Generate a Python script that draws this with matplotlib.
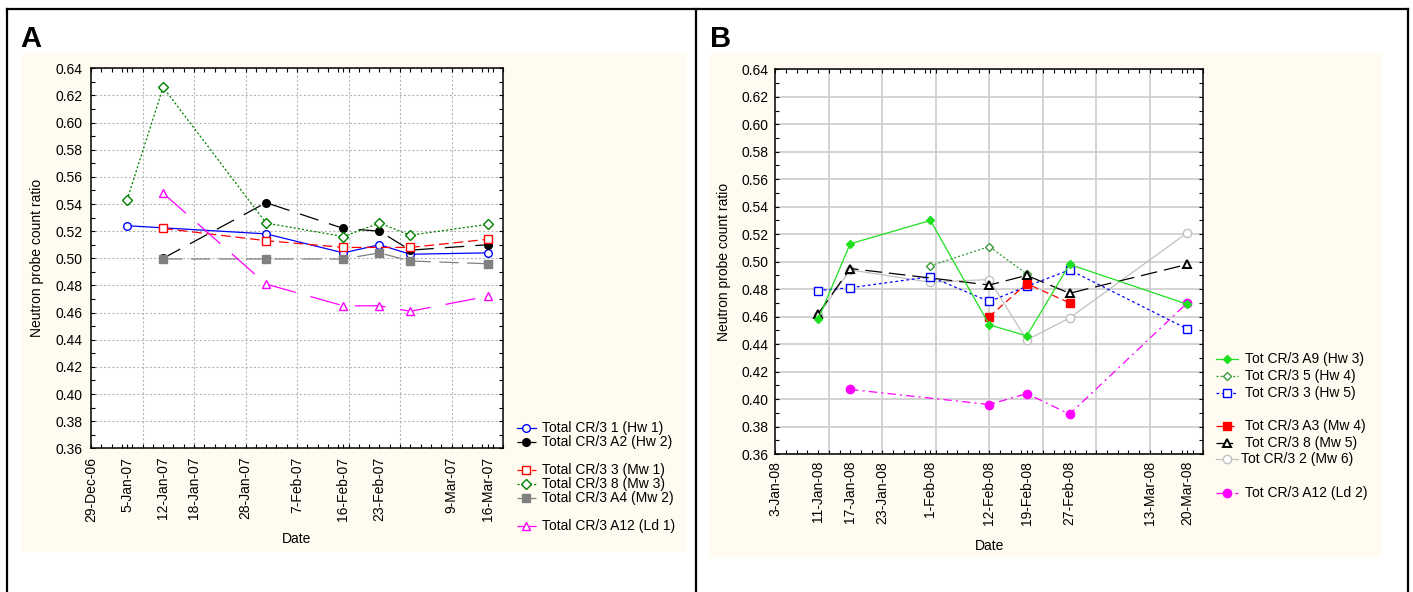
import numpy as np
import pandas as pd
import matplotlib
matplotlib.use('Agg')
import matplotlib.pyplot as plt
from matplotlib.lines import Line2D
from matplotlib.patches import Rectangle
from matplotlib.ticker import MultipleLocator, FixedLocator
import matplotlib.dates as mdates

plt.rcParams['font.family'] = ['Liberation Sans', 'DejaVu Sans']
plt.rcParams['lines.scale_dashes'] = False

nan = np.nan

# ── DATA: panel A (2007) ──────────────────────────────────────────────────────
dates_a = pd.to_datetime(['2007-01-05', '2007-01-12', '2007-02-01', '2007-02-16',
                          '2007-02-23', '2007-03-01', '2007-03-16'])
a_cr3_1   = [0.524, nan,    0.518,  0.504,  0.510, 0.503, 0.504]
a_cr3_a2  = [nan,   0.500,  0.541,  0.522,  0.520, 0.506, 0.510]
a_cr3_3   = [nan,   0.522,  0.513,  0.508,  nan,   0.508, 0.514]
a_cr3_8   = [0.543, 0.626,  0.526,  0.516,  0.526, 0.517, 0.525]
a_cr3_a4  = [nan,   0.4995, 0.4995, 0.4995, 0.504, 0.498, 0.496]
a_cr3_a12 = [nan,   0.548,  0.481,  0.465,  0.465, 0.461, 0.472]
ticks_a = ['2006-12-29', '2007-01-05', '2007-01-12', '2007-01-18', '2007-01-28',
           '2007-02-07', '2007-02-16', '2007-02-23', '2007-03-09', '2007-03-16']
xlim_a = ('2006-12-29', '2007-03-19')

# ── DATA: panel B (2008) ──────────────────────────────────────────────────────
dates_b = pd.to_datetime(['2008-01-11', '2008-01-17', '2008-02-01', '2008-02-12',
                          '2008-02-19', '2008-02-27', '2008-03-20'])
b_cr3_a9  = [0.458, 0.513, 0.530, 0.454, 0.446, 0.498, 0.469]
b_cr3_5   = [nan,   nan,   0.497, 0.511, 0.491, nan,   nan]
b_cr3_3   = [0.479, 0.481, 0.489, 0.471, 0.482, 0.494, 0.451]
b_cr3_a3  = [nan,   nan,   nan,   0.460, 0.484, 0.470, nan]
b_cr3_8   = [0.462, 0.495, nan,   0.483, 0.490, 0.477, 0.498]
b_cr3_2   = [0.461, 0.494, 0.485, 0.487, 0.443, 0.459, 0.521]
b_cr3_a12 = [nan,   0.407, nan,   0.396, 0.404, 0.389, 0.470]
ticks_b = ['2008-01-03', '2008-01-11', '2008-01-17', '2008-01-23', '2008-02-01',
           '2008-02-12', '2008-02-19', '2008-02-27', '2008-03-13', '2008-03-20']
xlim_b = ('2008-01-03', '2008-03-23')

# ── STYLES ────────────────────────────────────────────────────────────────────
S_A = {
    'Total CR/3 1 (Hw 1)':   dict(color='#0000ff', ls='-', marker='o', mfc='white', ms=5.5),
    'Total CR/3 A2 (Hw 2)':  dict(color='black', ls=(0, (14, 8)), marker='o', ms=5.5),
    'Total CR/3 3 (Mw 1)':   dict(color='#ff0000', ls=(0, (7, 3.5)), marker='s', mfc='white', ms=6),
    'Total CR/3 8 (Mw 3)':   dict(color='#008000', ls=(0, (1.5, 1.5)), marker='D', mfc='white', ms=5),
    'Total CR/3 A4 (Mw 2)':  dict(color='#808080', ls=(0, (14, 6)), marker='s', ms=6),
    'Total CR/3 A12 (Ld 1)': dict(color='#ff00ff', ls=(0, (22, 11)), marker='^', mfc='white', ms=6),
}
S_B = {
    'Tot CR/3 A9 (Hw 3)':  dict(color='#1fe01f', ls='-', marker='D', ms=4.5),
    'Tot CR/3 5 (Hw 4)':   dict(color='#3a9a3a', ls=(0, (1.5, 1.5)), marker='D', mfc='white', ms=4.5),
    'Tot CR/3 3 (Hw 5)':   dict(color='#0000ff', ls=(0, (2, 2)), marker='s', mfc='white', ms=6),
    'Tot CR/3 A3 (Mw 4)':  dict(color='#ff0000', ls=(0, (5, 3)), marker='s', ms=6),
    'Tot CR/3 8 (Mw 5)':   dict(color='black', ls=(0, (12, 5)), marker='^', mfc='white', ms=5.5, mew=1.4),
    'Tot CR/3 2 (Mw 6)':   dict(color='#c0c0c0', ls='-', marker='o', mfc='white', ms=6),
    'Tot CR/3 A12 (Ld 2)': dict(color='#ff00ff', ls=(0, (6, 3, 1.5, 3)), marker='o', ms=6),
}

W, H = 1413, 592
CREAM = '#FFFBF0'


def px(x, y):
    return x / W, 1 - y / H


def plot_series(ax, dates, vals, style):
    v = np.array(vals, dtype=float)
    m = ~np.isnan(v)
    ax.plot(dates[m], v[m], lw=0.9, mew=style.get('mew', 1.0),
            **{k: s for k, s in style.items() if k != 'mew'})


def setup_axes(ax, xlim, ticks, grid_kw, pad):
    x0, x1 = pd.Timestamp(xlim[0]), pd.Timestamp(xlim[1])
    ax.set_xlim(x0, x1)
    ax.set_ylim(0.36, 0.64)
    ax.yaxis.set_major_locator(MultipleLocator(0.02))
    ax.yaxis.set_minor_locator(MultipleLocator(0.01))
    ax.yaxis.set_major_formatter('{x:.2f}')
    tk = pd.to_datetime(ticks)
    ax.set_xticks(tk)
    ax.set_xticklabels([f"{d.day}-{d:%b-%y}" for d in tk], rotation=90)
    ax.xaxis.set_minor_locator(FixedLocator(mdates.date2num(pd.date_range(x0, x1, freq='2D'))))
    ax.tick_params(which='both', direction='in', top=True, right=True, length=3,
                   width=0.8, labelsize=10, pad=pad)
    for d in pd.date_range(x0, x1, freq='10D')[1:-1]:
        ax.axvline(d, zorder=0, **grid_kw)
    ax.yaxis.grid(True, **grid_kw)
    ax.set_axisbelow(True)
    for sp in ax.spines.values():
        sp.set_linewidth(1.1)
    ax.set_ylabel('Neutron probe count ratio', fontsize=10)
    ax.set_xlabel('Date', fontsize=10)


def draw_legend(fig, rows, xl0, xl1, xt, y0, dy):
    y = y0
    for row in rows:
        if row is not None:
            label, style, dx = row
            fx0, fy = px(xl0, y)
            fx1, _ = px(xl1, y)
            st = dict(style)
            mew = st.pop('mew', 1.0)
            fig.add_artist(Line2D([fx0, (fx0 + fx1) / 2, fx1], [fy, fy, fy],
                                  transform=fig.transFigure, markevery=[1],
                                  lw=0.9, mew=mew, **st))
            fig.text(px(xt + dx, y)[0], fy, label, va='center', ha='left', fontsize=10)
        y += dy


fig = plt.figure(figsize=(W / 100, H / 100), dpi=100)

# cream panels
for (x0, y0, x1, y1) in [(21, 53, 687, 552), (709, 53, 1381, 557)]:
    fig.add_artist(Rectangle(px(x0, y1), (x1 - x0) / W, (y1 - y0) / H,
                             transform=fig.transFigure, facecolor=CREAM,
                             edgecolor='none', zorder=-1))

# frame lines
frame_kw = dict(transform=fig.transFigure, color='black', lw=1.6, zorder=5)
fig.add_artist(Line2D([px(7, 0)[0], px(1408, 0)[0]], [px(0, 9)[1]] * 2, **frame_kw))
for xv in (7, 696, 1408):
    fig.add_artist(Line2D([px(xv, 0)[0]] * 2, [px(0, 9)[1], 0], **frame_kw))

# ── PANEL A ───────────────────────────────────────────────────────────────────
axA = fig.add_axes([91 / W, 1 - 448.3 / H, 412 / W, 380 / H])
series_a = [a_cr3_1, a_cr3_a2, a_cr3_3, a_cr3_8, a_cr3_a4, a_cr3_a12]
for vals, (lbl, st) in zip(series_a, S_A.items()):
    plot_series(axA, dates_a, vals, st)
setup_axes(axA, xlim_a, ticks_a,
           dict(color='#b4b4b4', lw=0.8, ls=(0, (1.5, 1.5))), pad=6)
axA.yaxis.set_label_coords(-0.114, 0.5)
axA.xaxis.set_label_coords(0.5, -0.221)

# ── PANEL B ───────────────────────────────────────────────────────────────────
axB = fig.add_axes([775.3 / W, 1 - 454 / H, 428 / W, 384.7 / H])
series_b = [b_cr3_a9, b_cr3_5, b_cr3_3, b_cr3_a3, b_cr3_8, b_cr3_2, b_cr3_a12]
order_b = [5, 1, 2, 3, 4, 6, 0]  # draw grey first, bright green on top
names_b = list(S_B.keys())
for i in order_b:
    plot_series(axB, dates_b, series_b[i], S_B[names_b[i]])
setup_axes(axB, xlim_b, ticks_b, dict(color='#cccccc', lw=1.2, ls='-'), pad=5)
axB.yaxis.set_label_coords(-0.104, 0.5)
axB.xaxis.set_label_coords(0.5, -0.221)

# ── LEGENDS ───────────────────────────────────────────────────────────────────
la = [(k, S_A[k], 0) for k in S_A]
draw_legend(fig, [la[0], la[1], None, la[2], la[3], la[4], None, la[5]],
            516.7, 536, 541.7, 427.7, 14.1)
lb = [(k, S_B[k], 0) for k in S_B]
lb[5] = (lb[5][0], lb[5][1], -4.3)
draw_legend(fig, [lb[0], lb[1], lb[2], None, lb[3], lb[4], lb[5], None, lb[6]],
            1216, 1237.7, 1245, 359.3, 16.7)

# panel letters
fig.text(*px(20, 46.7), 'A', fontsize=21, fontweight='bold', va='baseline')
fig.text(*px(710, 46.7), 'B', fontsize=21, fontweight='bold', va='baseline')

fig.savefig('out.png', dpi=100)
